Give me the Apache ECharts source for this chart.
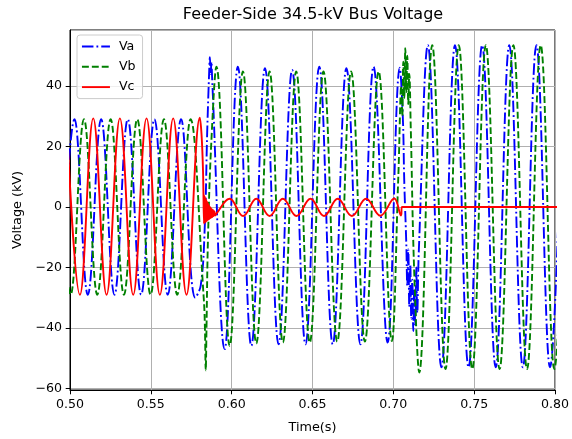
<!DOCTYPE html>
<html>
<head>
<meta charset="utf-8">
<script src="https://cdn.jsdelivr.net/npm/echarts@6/dist/echarts.min.js"></script>
<style>
html,body{margin:0;padding:0;background:#fff;}
#chart{width:572px;height:439px;}
</style>
</head>
<body>
<div id="chart"></div>
<script>
// ---- Data (time in s, voltage in kV) ----
const chartTitle = 'Feeder-Side 34.5-kV Bus Voltage';
const xName = 'Time(s)';
const yName = 'Voltage (kV)';
const seriesNames = ['Va', 'Vb', 'Vc'];

// Va: peaks / troughs and transient points
const timeVa = [0.49457,0.50278,0.51102,0.51926,0.52750,0.53574,0.54398,0.55222,0.56046,0.56870,
  0.57747,0.58086,0.58333,0.58488,0.58611,0.58654,0.58704,0.58747,0.58796,
  0.59568,0.60383,0.61216,0.62062,0.62901,0.63741,0.64568,0.65420,0.66253,0.67099,0.67963,0.68778,0.69648,
  0.70401,0.70586,0.70679,0.70802,0.70864,0.70926,0.70988,0.71049,0.71111,0.71173,0.71235,0.71296,0.71358,0.71420,0.71481,0.71574,
  0.72136,0.72975,0.73815,0.74654,0.75494,0.76333,0.77173,0.78012,0.78852,0.79691,0.80531];
const va = [-29,29,-29,29,-29,29,-29,29,-29,29,
  -30,-26,-7,25,45,49.5,44,48,42,
  -47,46.4,-45.9,45.9,-45.4,45.3,-45.4,46.4,-45.4,45.9,-45.4,46.4,-44.8,
  46,30,8,-12,-26,-14,-33,-19,-37,-24,-41,-27,-39,-20,-35,-15,
  53.5,-53,53.5,-53,53.5,-53,53.5,-53,53.5,-53,53.5];

// Vb
const timeVb = [0.49216,0.50040,0.50864,0.51688,0.52512,0.53336,0.54160,0.54985,0.55809,0.56633,0.57457,
  0.58272,0.58346,0.58395,0.58444,0.58537,0.58747,
  0.59056,0.59877,0.60698,0.61525,0.62346,0.63167,0.63994,0.64833,0.65679,0.66531,0.67389,0.68241,0.69093,0.69907,
  0.70309,0.70494,0.70556,0.70617,0.70679,0.70741,0.70802,0.70864,0.70926,0.70988,0.71080,0.71296,
  0.71605,0.72407,0.73228,0.74049,0.74883,0.75722,0.76574,0.77426,0.78272,0.79117,0.79957,0.80802];
const vb = [29,-29,29,-29,29,-29,29,-29,29,-29,29,
  -30,-40,-54,-40,-10,22,
  46.4,-45.9,44.8,-45.1,44.8,-44.8,44.8,-44.8,44.8,-44.5,44.8,-44.5,44.8,-44.3,
  10,40,30,48,36,52.5,38,50,34,44,26,-22,
  -54.7,53.5,-53.6,53.5,-53.6,53.5,-53.6,53.5,-53.6,53.5,-53.6,53.5];

// Vc
const timeVc = [0.49790,0.50614,0.51438,0.52262,0.53086,0.53910,0.54735,0.55559,0.56383,0.57207,0.58031,
  0.58136,0.58228,0.58290,
  0.58315,0.58340,0.58364,0.58389,0.58414,0.58438,0.58463,0.58488,0.58512,0.58537,0.58562,0.58586,0.58611,
  0.58636,0.58660,0.58685,0.58716,0.58747,0.58778,0.58809,0.58846,0.58889,0.58932,0.58981,0.59043,
  0.59877,0.60710,0.61525,0.62346,0.63167,0.64012,0.64877,0.65710,0.66562,0.67438,0.68315,0.69198,0.70062,
  0.70475,0.70537,0.80864];
const vc = [29,-29,29.3,-29,29.3,-29,29.3,-29,29.3,-29,29.5,
  24,12,-5.5,
  3.8,-5.2,3.2,-5.0,2.6,-4.8,2.0,-4.5,1.5,-4.3,1.0,-4.1,0.5,
  -3.9,0.1,-3.7,-0.3,-3.5,-0.7,-3.3,-1.0,-3.0,-1.4,-2.8,-2.3,
  2.7,-3.0,2.7,-3.0,2.7,-3.0,2.7,-3.0,2.7,-3.0,2.7,-2.9,2.8,
  -2.8,0,0];

const xRange = [0.5, 0.8];
const xStep = 0.05;
const yRange = [-60.5, 58.5];

const pair = (ts, vs) => ts.map((t, i) => [t, vs[i]]);
const FONT = 'DejaVu Sans';
const minus = s => String(s).replace('-', '\u2212');

const styles = [
  {color: '#0000ff', width: 1.9, type: [11.5, 3, 1.8, 3]},
  {color: '#008000', width: 1.9, type: [6.9, 3]},
  {color: '#ff0000', width: 1.9, type: 'solid'}
];

const chart = echarts.init(document.getElementById('chart'), null, {renderer: 'canvas'});
chart.setOption({
  animation: false,
  backgroundColor: '#ffffff',
  title: {
    text: chartTitle,
    left: 313, top: 7, textAlign: 'center', padding: 0,
    textStyle: {fontFamily: FONT, fontSize: 16, fontWeight: 'normal', color: '#000'}
  },
  grid: {left: 70, right: 16, top: 30, bottom: 46, show: true, borderColor: '#000', borderWidth: 1, backgroundColor: 'transparent'},
  legend: {
    data: seriesNames.map((n, i) => ({name: n, lineStyle: styles[i], itemStyle: {opacity: 0}})),
    orient: 'vertical',
    left: 77, top: 35,
    itemWidth: 28, itemHeight: 14, itemGap: 7.3,
    padding: [5, 7, 5, 4],
    backgroundColor: 'rgba(255,255,255,0.8)',
    borderColor: '#cccccc', borderWidth: 1, borderRadius: 3,
    itemStyle: {opacity: 0},
    textStyle: {fontFamily: FONT, fontSize: 12.6, color: '#000', padding: [0, 0, 0, 4]},
    selectedMode: false
  },
  xAxis: {
    type: 'value', min: xRange[0], max: xRange[1], interval: xStep,
    name: xName, nameLocation: 'middle', nameGap: 31,
    nameTextStyle: {fontFamily: FONT, fontSize: 12.8, color: '#000'},
    axisLine: {show: true, onZero: false, lineStyle: {color: '#000', width: 1}},
    axisTick: {show: true, length: 4.3, lineStyle: {color: '#000', width: 1}},
    axisLabel: {margin: 8, fontFamily: FONT, fontSize: 12.6, color: '#000', formatter: v => v.toFixed(2)},
    splitLine: {show: true, lineStyle: {color: '#b0b0b0', width: 1}}
  },
  yAxis: {
    type: 'value', min: yRange[0], max: yRange[1], splitNumber: 6,
    name: yName, nameLocation: 'middle', nameGap: 44,
    nameTextStyle: {fontFamily: FONT, fontSize: 12.8, color: '#000'},
    axisLine: {show: true, onZero: false, lineStyle: {color: '#000', width: 1}},
    axisTick: {show: true, length: 4.3, lineStyle: {color: '#000', width: 1}},
    axisLabel: {margin: 8, fontFamily: FONT, fontSize: 12.6, color: '#000', showMinLabel: false, showMaxLabel: false,
      formatter: v => minus(Math.round(v))},
    splitLine: {show: true, lineStyle: {color: '#b0b0b0', width: 1}}
  },
  series: [
    {name: seriesNames[0], type: 'line', data: pair(timeVa, va), symbol: 'none', smooth: 0.4,
     lineStyle: styles[0], itemStyle: {color: styles[0].color}},
    {name: seriesNames[1], type: 'line', data: pair(timeVb, vb), symbol: 'none', smooth: 0.4,
     lineStyle: styles[1], itemStyle: {color: styles[1].color}},
    {name: seriesNames[2], type: 'line', data: pair(timeVc, vc), symbol: 'none', smooth: 0.4,
     lineStyle: styles[2], itemStyle: {color: styles[2].color}}
  ]
});
</script>
</body>
</html>
